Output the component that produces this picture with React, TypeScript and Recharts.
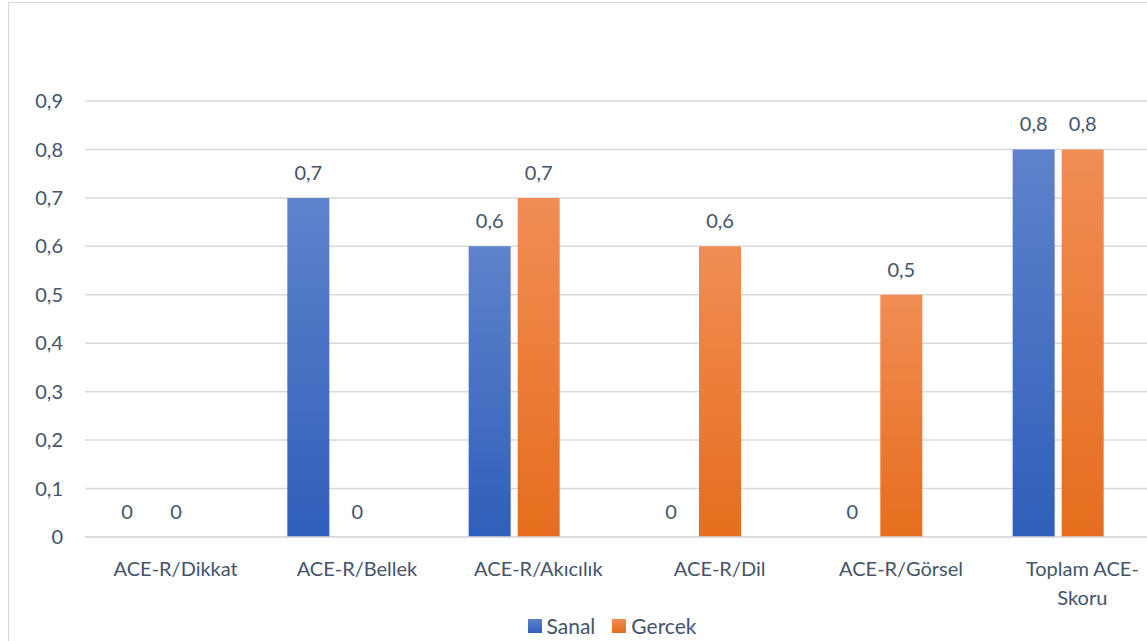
import React from 'react';
import { BarChart, Bar, XAxis, YAxis, CartesianGrid, LabelList } from 'recharts';

const categories = ['ACE-R/Dikkat', 'ACE-R/Bellek', 'ACE-R/Akıcılık', 'ACE-R/Dil', 'ACE-R/Görsel', 'Toplam ACE-Skoru'];
const sanal = [0, 0.7, 0.6, 0, 0, 0.8];
const gercek = [0, 0, 0.7, 0.6, 0.5, 0.8];
// third, empty series in the source workbook (keeps the bar groups offset left)
const bos: (number | null)[] = [null, null, null, null, null, null];
const yTicks = [0, 0.1, 0.2, 0.3, 0.4, 0.5, 0.6, 0.7, 0.8, 0.9];

const data = categories.map((name, i) => ({ name, sanal: sanal[i], gercek: gercek[i], bos: bos[i] }));

const TEXT = '#44546a';
const FONT = 'Lato, "Open Sans", sans-serif';
const FS = 20;
const fmt = (v: any) => (v === null || v === undefined ? '' : String(v).replace('.', ','));
// zero values still need a (invisible) rect so the "0" label is drawn
const zeroSize = (v: any) => (v === 0 ? 0.01 : 0);

const CategoryTick = (props: any) => {
  const { x, y, payload } = props;
  const label: string = payload.value;
  let lines = [label];
  if (label.length > 14 && label.includes('-')) {
    const idx = label.lastIndexOf('-') + 1;
    lines = [label.slice(0, idx), label.slice(idx)];
  }
  return (
    <g transform={`translate(${x},${y})`}>
      {lines.map((l, i) => (
        <text key={i} x={0} y={i * 29} dy={31} textAnchor="middle" fill={TEXT} fontSize={FS} fontFamily={FONT}>
          {l}
        </text>
      ))}
    </g>
  );
};

const LegendRow = () => (
  <div
    style={{
      position: 'absolute',
      left: 0,
      width: 1206,
      top: 610,
      display: 'flex',
      justifyContent: 'center',
      gap: 17,
      fontFamily: FONT,
      fontSize: 21,
      color: TEXT,
    }}
  >
    <div style={{ display: 'flex', alignItems: 'center', gap: 5 }}>
      <span style={{ width: 14, height: 14, background: 'linear-gradient(#5f82cb, #2f5fba)', display: 'inline-block' }} />
      <span>Sanal</span>
    </div>
    <div style={{ display: 'flex', alignItems: 'center', gap: 5 }}>
      <span style={{ width: 14, height: 14, background: 'linear-gradient(#f18d54, #e66d1d)', display: 'inline-block' }} />
      <span>Gercek</span>
    </div>
  </div>
);

const App: React.FC = () => {
  return (
    <div
      style={{
        position: 'absolute',
        left: 8,
        top: 2,
        width: 1206,
        height: 680,
        border: '1px solid #d9d9d9',
        background: '#fff',
      }}
    >
      <BarChart
        width={1206}
        height={680}
        data={data}
        margin={{ top: 98, right: 42, left: 0, bottom: 116 }}
        barSize={42}
        barGap={7}
      >
        <defs>
          <linearGradient id="gBlue" x1="0" y1="0" x2="0" y2="1">
            <stop offset="0%" stopColor="#5f82cb" />
            <stop offset="100%" stopColor="#2f5fba" />
          </linearGradient>
          <linearGradient id="gOrange" x1="0" y1="0" x2="0" y2="1">
            <stop offset="0%" stopColor="#f18d54" />
            <stop offset="100%" stopColor="#e66d1d" />
          </linearGradient>
        </defs>
        <CartesianGrid vertical={false} stroke="#d9d9d9" strokeWidth={1.5} />
        <XAxis
          dataKey="name"
          height={30}
          axisLine={{ stroke: '#d9d9d9', strokeWidth: 1.5 }}
          tickLine={false}
          tick={<CategoryTick />}
          interval={0}
        />
        <YAxis
          width={76}
          domain={[0, 0.9]}
          ticks={yTicks}
          axisLine={false}
          tickLine={false}
          tickFormatter={fmt}
          tick={{ fill: TEXT, fontSize: FS, fontFamily: FONT, dx: -14 }}
        />
        <Bar dataKey="sanal" name="Sanal" fill="url(#gBlue)" minPointSize={zeroSize} isAnimationActive={false}>
          <LabelList dataKey="sanal" position="top" offset={18} formatter={fmt} fill={TEXT} fontSize={FS} fontFamily={FONT} />
        </Bar>
        <Bar dataKey="gercek" name="Gercek" fill="url(#gOrange)" minPointSize={zeroSize} isAnimationActive={false}>
          <LabelList dataKey="gercek" position="top" offset={18} formatter={fmt} fill={TEXT} fontSize={FS} fontFamily={FONT} />
        </Bar>
        <Bar dataKey="bos" name="" fill="#a5a5a5" legendType="none" isAnimationActive={false} />
      </BarChart>
      <LegendRow />
    </div>
  );
};

export default App;
